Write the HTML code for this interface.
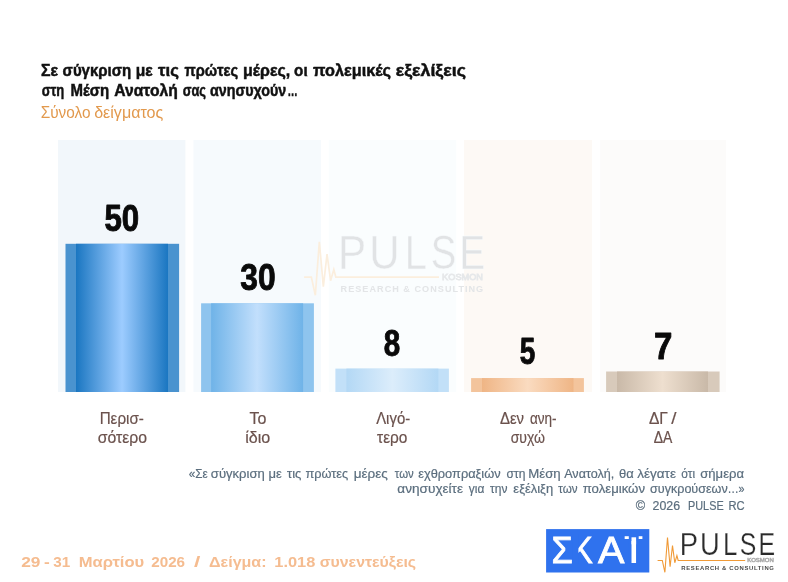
<!DOCTYPE html>
<html lang="el">
<head>
<meta charset="utf-8">
<title>Pulse RC – ΣΚΑΪ</title>
<style>
html,body{margin:0;padding:0;background:#fff;}
body{width:788px;height:582px;overflow:hidden;font-family:"Liberation Sans",sans-serif;}
svg{display:block;}
text{font-family:"Liberation Sans",sans-serif;}
.t{font-weight:bold;fill:#111;stroke:#111;stroke-width:0.5px;}
.s{fill:#e2994d;}
.n{font-weight:bold;fill:#0a0a0a;stroke:#0a0a0a;stroke-width:0.9px;stroke-linejoin:round;}
.l{fill:#6b524d;stroke:#6b524d;stroke-width:0.2px;}
.q{fill:#5b6e7e;stroke:#5b6e7e;stroke-width:0.2px;}
.f{font-weight:bold;fill:#f5bc90;}
</style>
</head>
<body>
<svg width="788" height="582" viewBox="0 0 788 582">
<defs>
<linearGradient id="g1" x1="0" x2="1" y1="0" y2="0">
<stop offset="0" stop-color="#1a76c1"/><stop offset="0.5" stop-color="#9dccff"/><stop offset="1" stop-color="#1a76c1"/>
</linearGradient>
<linearGradient id="g2" x1="0" x2="1" y1="0" y2="0">
<stop offset="0" stop-color="#6fb3e8"/><stop offset="0.5" stop-color="#c2dffc"/><stop offset="1" stop-color="#6fb3e8"/>
</linearGradient>
<linearGradient id="g3" x1="0" x2="1" y1="0" y2="0">
<stop offset="0" stop-color="#b3d8f5"/><stop offset="0.5" stop-color="#dcedfb"/><stop offset="1" stop-color="#b3d8f5"/>
</linearGradient>
<linearGradient id="g4" x1="0" x2="1" y1="0" y2="0">
<stop offset="0" stop-color="#efb585"/><stop offset="0.5" stop-color="#fadbc0"/><stop offset="1" stop-color="#efb585"/>
</linearGradient>
<linearGradient id="g5" x1="0" x2="1" y1="0" y2="0">
<stop offset="0" stop-color="#c9b9a8"/><stop offset="0.5" stop-color="#eedfcf"/><stop offset="1" stop-color="#c9b9a8"/>
</linearGradient>
</defs>
<rect width="788" height="582" fill="#ffffff"/>

<!-- title -->
<text class="t" y="75.7" font-size="17"><tspan x="41.10" textLength="17.05" lengthAdjust="spacingAndGlyphs">Σε</tspan> <tspan x="62.61" textLength="68.62" lengthAdjust="spacingAndGlyphs">σύγκριση</tspan> <tspan x="135.80" textLength="16.95" lengthAdjust="spacingAndGlyphs">με</tspan> <tspan x="158.05" textLength="20.81" lengthAdjust="spacingAndGlyphs">τις</tspan> <tspan x="184.50" textLength="53.58" lengthAdjust="spacingAndGlyphs">πρώτες</tspan> <tspan x="243.08" textLength="47.19" lengthAdjust="spacingAndGlyphs">μέρες,</tspan> <tspan x="294.11" textLength="13.51" lengthAdjust="spacingAndGlyphs">οι</tspan> <tspan x="313.07" textLength="77.97" lengthAdjust="spacingAndGlyphs">πολεμικές</tspan> <tspan x="395.73" textLength="70.17" lengthAdjust="spacingAndGlyphs">εξελίξεις</tspan></text>
<text class="t" y="95.9" font-size="17"><tspan x="41.69" textLength="22.61" lengthAdjust="spacingAndGlyphs">στη</tspan> <tspan x="70.50" textLength="38.63" lengthAdjust="spacingAndGlyphs">Μέση</tspan> <tspan x="114.32" textLength="63.44" lengthAdjust="spacingAndGlyphs">Ανατολή</tspan> <tspan x="182.70" textLength="23.31" lengthAdjust="spacingAndGlyphs">σας</tspan> <tspan x="209.95" textLength="76.29" lengthAdjust="spacingAndGlyphs">ανησυχούν</tspan> <tspan x="287.48" textLength="10.17" lengthAdjust="spacingAndGlyphs">…</tspan></text>
<text class="s" y="118.2" font-size="16.4"><tspan x="40.70" textLength="49.84" lengthAdjust="spacingAndGlyphs">Σύνολο</tspan> <tspan x="94.13" textLength="69.17" lengthAdjust="spacingAndGlyphs">δείγματος</tspan></text>

<!-- column panels -->
<rect x="58" y="140" width="127.4" height="252" fill="#f2f7fb"/>
<rect x="193.5" y="140" width="127.4" height="252" fill="#f6fafd"/>
<rect x="328.8" y="140" width="127.4" height="252" fill="#fafdfe"/>
<rect x="464" y="140" width="128" height="252" fill="#fdf9f5"/>
<rect x="600.2" y="140" width="125.7" height="252" fill="#fcfbfa"/>

<!-- watermark -->
<g transform="translate(340.9 233.7) scale(1.54) translate(-681.5 -532.3)">
<path d="M657.6 560.5H662.3L664.9 572.3L667.5 537.5L670.1 566.7L672.5 545.6L674.8 562.8L676.9 555.5L678.2 560.5H745.2" fill="none" stroke="#fbeedd" stroke-width="1.1" stroke-linejoin="miter"/>
<text y="555.1" font-size="31.6" fill="#e1e3e5" stroke="#f9fcfe" stroke-width="0.3"><tspan x="679.65" textLength="18.30" lengthAdjust="spacingAndGlyphs">P</tspan><tspan x="699.89" textLength="19.71" lengthAdjust="spacingAndGlyphs">U</tspan><tspan x="722.98" textLength="14.38" lengthAdjust="spacingAndGlyphs">L</tspan><tspan x="739.77" textLength="16.57" lengthAdjust="spacingAndGlyphs">S</tspan><tspan x="758.56" textLength="16.61" lengthAdjust="spacingAndGlyphs">E</tspan></text>
<text x="747.20" y="562.2" font-size="5.6" textLength="26.59" lengthAdjust="spacingAndGlyphs" fill="#e6e8ea" stroke="#e6e8ea" stroke-width="0.5">KOSMON</text>
<text x="681.3" y="570" font-size="5.9" font-weight="bold" fill="#e3e5e7" textLength="92.6" lengthAdjust="spacing">RESEARCH &amp; CONSULTING</text>
</g>

<!-- bars -->
<rect x="65.5" y="243.8" width="113.6" height="148.2" fill="#4a93cf"/>
<rect x="76" y="243.8" width="92" height="148.2" fill="url(#g1)"/>
<rect x="201.1" y="303.3" width="112.8" height="88.7" fill="#8ec4ee"/>
<rect x="211.1" y="303.3" width="92" height="88.7" fill="url(#g2)"/>
<rect x="335.4" y="368.6" width="113.5" height="23.4" fill="#c2e0f8"/>
<rect x="346.4" y="368.6" width="92" height="23.4" fill="url(#g3)"/>
<rect x="471.1" y="378.1" width="112.8" height="13.9" fill="#f3c49c"/>
<rect x="482" y="378.1" width="91.5" height="13.9" fill="url(#g4)"/>
<rect x="606.1" y="371.5" width="113.5" height="20.5" fill="#d8cabb"/>
<rect x="617" y="371.5" width="91" height="20.5" fill="url(#g5)"/>

<!-- values -->
<text class="n" x="104.49" y="230.5" font-size="36" textLength="34.74" lengthAdjust="spacingAndGlyphs">50</text>
<text class="n" x="240.22" y="290.0" font-size="36" textLength="35.33" lengthAdjust="spacingAndGlyphs">30</text>
<text class="n" x="383.86" y="355.6" font-size="36" textLength="16.45" lengthAdjust="spacingAndGlyphs">8</text>
<text class="n" x="519.74" y="364.0" font-size="36" textLength="15.54" lengthAdjust="spacingAndGlyphs">5</text>
<text class="n" x="653.88" y="358.6" font-size="36" textLength="18.37" lengthAdjust="spacingAndGlyphs">7</text>

<!-- labels -->
<text class="l" y="423.7" font-size="16.6"><tspan x="99.65" textLength="44.22" lengthAdjust="spacingAndGlyphs">Περισ-</tspan> <tspan x="249.47" textLength="16.94" lengthAdjust="spacingAndGlyphs">Το</tspan> <tspan x="376.13" textLength="34.04" lengthAdjust="spacingAndGlyphs">Λιγό-</tspan> <tspan x="499.95" textLength="24.11" lengthAdjust="spacingAndGlyphs">Δεν</tspan> <tspan x="529.93" textLength="26.67" lengthAdjust="spacingAndGlyphs">ανη-</tspan> <tspan x="648.94" textLength="19.00" lengthAdjust="spacingAndGlyphs">ΔΓ</tspan> <tspan x="671.20" textLength="5.20" lengthAdjust="spacingAndGlyphs">/</tspan></text>
<text class="l" y="442.8" font-size="16.6"><tspan x="97.74" textLength="49.32" lengthAdjust="spacingAndGlyphs">σότερο</tspan> <tspan x="245.22" textLength="25.05" lengthAdjust="spacingAndGlyphs">ίδιο</tspan> <tspan x="377.08" textLength="30.37" lengthAdjust="spacingAndGlyphs">τερο</tspan> <tspan x="510.72" textLength="34.25" lengthAdjust="spacingAndGlyphs">συχώ</tspan> <tspan x="653.68" textLength="18.64" lengthAdjust="spacingAndGlyphs">ΔΑ</tspan></text>

<!-- question -->
<text class="q" y="477.5" font-size="13.4"><tspan x="188.82" textLength="19.00" lengthAdjust="spacingAndGlyphs">«Σε</tspan> <tspan x="210.85" textLength="53.90" lengthAdjust="spacingAndGlyphs">σύγκριση</tspan> <tspan x="268.42" textLength="13.33" lengthAdjust="spacingAndGlyphs">με</tspan> <tspan x="287.01" textLength="14.39" lengthAdjust="spacingAndGlyphs">τις</tspan> <tspan x="305.41" textLength="42.78" lengthAdjust="spacingAndGlyphs">πρώτες</tspan> <tspan x="353.69" textLength="34.13" lengthAdjust="spacingAndGlyphs">μέρες</tspan> <tspan x="394.84" textLength="18.89" lengthAdjust="spacingAndGlyphs">των</tspan> <tspan x="418.26" textLength="82.32" lengthAdjust="spacingAndGlyphs">εχθροπραξιών</tspan> <tspan x="506.49" textLength="18.89" lengthAdjust="spacingAndGlyphs">στη</tspan> <tspan x="528.31" textLength="32.44" lengthAdjust="spacingAndGlyphs">Μέση</tspan> <tspan x="564.18" textLength="50.14" lengthAdjust="spacingAndGlyphs">Ανατολή,</tspan> <tspan x="619.03" textLength="14.75" lengthAdjust="spacingAndGlyphs">θα</tspan> <tspan x="637.21" textLength="38.75" lengthAdjust="spacingAndGlyphs">λέγατε</tspan> <tspan x="681.31" textLength="13.72" lengthAdjust="spacingAndGlyphs">ότι</tspan> <tspan x="700.25" textLength="43.73" lengthAdjust="spacingAndGlyphs">σήμερα</tspan></text>
<text class="q" y="493.3" font-size="13.4"><tspan x="397.33" textLength="65.73" lengthAdjust="spacingAndGlyphs">ανησυχείτε</tspan> <tspan x="468.86" textLength="15.59" lengthAdjust="spacingAndGlyphs">για</tspan> <tspan x="490.03" textLength="17.43" lengthAdjust="spacingAndGlyphs">την</tspan> <tspan x="513.36" textLength="39.79" lengthAdjust="spacingAndGlyphs">εξέλιξη</tspan> <tspan x="558.24" textLength="19.30" lengthAdjust="spacingAndGlyphs">των</tspan> <tspan x="582.70" textLength="62.30" lengthAdjust="spacingAndGlyphs">πολεμικών</tspan> <tspan x="650.07" textLength="77.61" lengthAdjust="spacingAndGlyphs">συγκρούσεων</tspan> <tspan x="727.47" textLength="11.26" lengthAdjust="spacingAndGlyphs">…</tspan> <tspan x="738.46" textLength="5.97" lengthAdjust="spacingAndGlyphs">»</tspan></text>
<text class="q" y="509.5" font-size="13.4"><tspan x="635.71" textLength="9.39" lengthAdjust="spacingAndGlyphs">©</tspan> <tspan x="652.58" textLength="27.57" lengthAdjust="spacingAndGlyphs">2026</tspan> <tspan x="688.01" textLength="35.66" lengthAdjust="spacingAndGlyphs">PULSE</tspan> <tspan x="728.38" textLength="16.14" lengthAdjust="spacingAndGlyphs">RC</tspan></text>

<!-- footer -->
<text class="f" y="566.5" font-size="15.1"><tspan x="21.20" textLength="19.24" lengthAdjust="spacingAndGlyphs">29</tspan> <tspan x="44.12" textLength="5.77" lengthAdjust="spacingAndGlyphs">-</tspan> <tspan x="53.25" textLength="16.97" lengthAdjust="spacingAndGlyphs">31</tspan> <tspan x="78.70" textLength="65.58" lengthAdjust="spacingAndGlyphs">Μαρτίου</tspan> <tspan x="151.27" textLength="33.77" lengthAdjust="spacingAndGlyphs">2026</tspan> <tspan x="194.08" textLength="6.35" lengthAdjust="spacingAndGlyphs">/</tspan> <tspan x="209.05" textLength="57.49" lengthAdjust="spacingAndGlyphs">Δείγμα:</tspan> <tspan x="274.27" textLength="41.04" lengthAdjust="spacingAndGlyphs">1.018</tspan> <tspan x="319.68" textLength="96.45" lengthAdjust="spacingAndGlyphs">συνεντεύξεις</tspan></text>

<!-- SKAI logo -->
<rect x="546.1" y="529.1" width="103.2" height="43.4" fill="#2f72ee"/>
<text y="562.6" font-size="37.5" fill="#ffffff" stroke="#ffffff" stroke-width="0.8" stroke-linejoin="miter"><tspan x="551.48" textLength="21.28" lengthAdjust="spacingAndGlyphs">Σ</tspan><tspan x="572.05" textLength="20.69" lengthAdjust="spacingAndGlyphs">Κ</tspan><tspan x="597.92" textLength="26.45" lengthAdjust="spacingAndGlyphs">Α</tspan><tspan x="624.5" y="562.8" font-size="30.99" stroke="none" textLength="18.0" lengthAdjust="spacingAndGlyphs">Ϊ</tspan></text>
<rect x="572.6" y="534" width="5.8" height="30" fill="#2f72ee"/>
<rect x="628.8" y="535" width="2.7" height="29" fill="#2f72ee"/>
<rect x="636.1" y="535" width="2.6" height="29" fill="#2f72ee"/>
<rect x="631.5" y="537.3" width="4.6" height="7" fill="#ffffff"/>

<!-- PULSE logo -->
<g>
<path d="M657.6 560.5H662.3L664.9 572.3L667.5 537.5L670.1 566.7L672.5 545.6L674.8 562.8L676.9 555.5L678.2 560.5H745.2" fill="none" stroke="#f09a37" stroke-width="1.1" stroke-linejoin="miter"/>
<text y="555.1" font-size="31.6" fill="#2b2b2b" stroke="#ffffff" stroke-width="0.25"><tspan x="679.65" textLength="18.30" lengthAdjust="spacingAndGlyphs">P</tspan><tspan x="699.89" textLength="19.71" lengthAdjust="spacingAndGlyphs">U</tspan><tspan x="722.98" textLength="14.38" lengthAdjust="spacingAndGlyphs">L</tspan><tspan x="739.77" textLength="16.57" lengthAdjust="spacingAndGlyphs">S</tspan><tspan x="758.56" textLength="16.61" lengthAdjust="spacingAndGlyphs">E</tspan></text>
<text x="747.20" y="562.2" font-size="5.6" textLength="26.59" lengthAdjust="spacingAndGlyphs" fill="#adadad" stroke="#adadad" stroke-width="0.5">KOSMON</text>
<text x="681.3" y="570" font-size="5.9" font-weight="bold" fill="#4a4a4a" textLength="92.6" lengthAdjust="spacing">RESEARCH &amp; CONSULTING</text>
</g>
</svg>
</body>
</html>
